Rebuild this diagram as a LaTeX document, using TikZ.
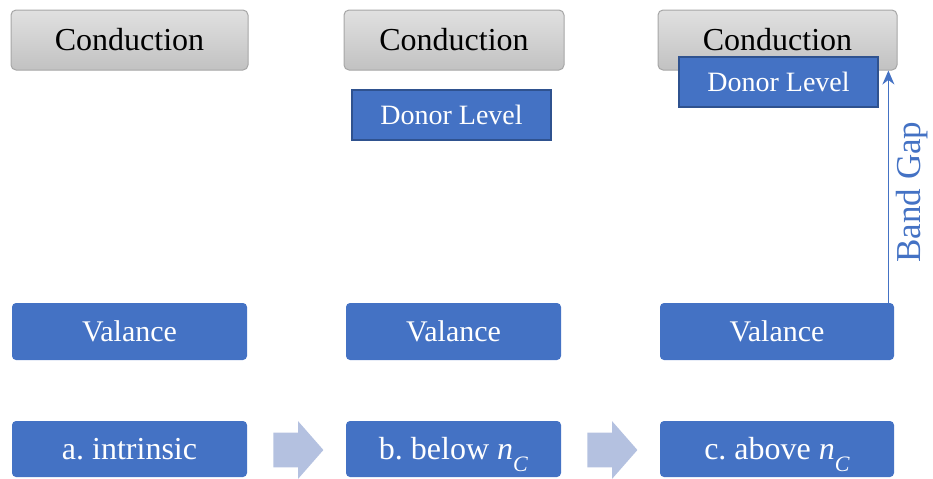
\documentclass[tikz,border=0pt]{standalone}
\usepackage{fontspec}
\setmainfont{Liberation Serif}
\usetikzlibrary{arrows.meta,shapes.arrows}
\definecolor{bandblue}{HTML}{4472C4}
\definecolor{edgeblue}{HTML}{2F528F}
\definecolor{arrowblue}{HTML}{B4C1E0}
\newcommand{\nC}{\textit{n}\raisebox{-0.35em}[0pt][0pt]{\fontsize{11}{13}\selectfont\textit{C}}}
\frenchspacing

\begin{document}
\begin{tikzpicture}[x=0.5pt,y=-0.5pt,>={Stealth[length=7pt,width=6pt]}]
	\tikzstyle{level}=[rectangle,inner sep=0pt,text=white]
	\tikzstyle{cband}=[level,rounded corners=2.5pt,draw=black!35,line width=0.5pt,
	top color=black!12,bottom color=black!24,text=black,
	minimum height=30pt,font=\fontsize{16}{19}\selectfont];
	\tikzstyle{vband}=[level,rounded corners=2pt,fill=bandblue,
	minimum height=28.5pt,font=\fontsize{15}{18}\selectfont];
	\tikzstyle{donor}=[level,fill=bandblue,draw=edgeblue,line width=1.2pt,
	minimum height=25pt,minimum width=99.5pt,font=\fontsize{14}{17}\selectfont];
	\tikzstyle{stage}=[vband,minimum height=28pt,font=\fontsize{16}{19}\selectfont];
	\tikzstyle{nextarrow}=[single arrow,fill=arrowblue,inner xsep=0pt,inner ysep=8.5pt,
	minimum height=25pt,single arrow head extend=5.75pt,single arrow tip angle=97.5];
	\useasboundingbox (0,0) rectangle (933,478);

% conduction bands
\node[cband,minimum width=118.5pt](c1) at (129.5,40){Conduction};
\node[cband,minimum width=110pt](c2) at (454,40){Conduction};
\node[cband,minimum width=119.5pt](c3) at (777.5,40){Conduction};

% donor levels
\node[donor](d2) at (451.5,115){Donor Level};
\node[donor](d3) at (778.5,82){Donor Level};

% valance bands
\node[vband,minimum width=117.5pt](v1) at (129.5,331.5){Valance};
\node[vband,minimum width=107.5pt](v2) at (453.5,331.5){Valance};
\node[vband,minimum width=117pt](v3) at (777,331.5){Valance};

% stages
\node[stage,minimum width=117.5pt](s1) at (129.5,449){a. intrinsic};
\node[stage,minimum width=107.5pt](s2) at (453.5,449){b. below \nC};
\node[stage,minimum width=117pt](s3) at (777,449){c. above \nC};

\node[nextarrow,anchor=tail](a1) at (273,450){};
\node[nextarrow,anchor=tail](a2) at (587,450){};

% band gap
\coordinate (gb) at ([xshift=-3pt]v3.north east);
\draw[->,draw=bandblue,line width=0.7pt] (gb) -- (gb |- c3.south);
\node[text=bandblue,rotate=90,font=\fontsize{17.5}{21}\selectfont](gap) at (912,192){Band Gap};

\end{tikzpicture}
\end{document}
